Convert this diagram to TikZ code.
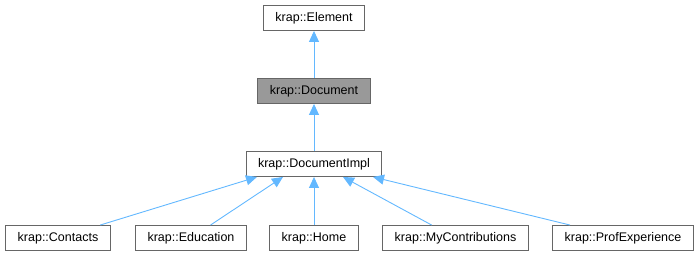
\documentclass[tikz,border=0pt]{standalone}
\usepackage{fontspec}
\setmainfont{Liberation Sans}
\usetikzlibrary{arrows.meta}

\definecolor{boxline}{HTML}{666666}
\definecolor{docfill}{HTML}{999999}
\definecolor{edgeblue}{HTML}{63B8FF}

\tikzset{
  cls/.style={draw=boxline, line width=0.9pt, fill=white, minimum height=25,
    inner xsep=12, inner ysep=0, font=\fontsize{12.5}{15}\selectfont},
  inh/.style={draw=edgeblue, line width=0.9pt,
    -{Triangle[length=11pt, width=10pt, fill=edgeblue]}}
}

\begin{document}
\begin{tikzpicture}[x=1pt, y=-1pt]
                \useasboundingbox (0,0) rectangle (699,256);
                % Define the class boxes
                \node[cls] (element) at (314,18) {krap::Element};
                \node[cls, fill=docfill] (document) at (314,91) {krap::Document};
                \node[cls] (impl) at (314,164) {krap::DocumentImpl};

                \node[cls] (contacts) at (58,238) {krap::Contacts};
                \node[cls] (education) at (191,238) {krap::Education};
                \node[cls] (home) at (314,238) {krap::Home};
                \node[cls] (mycontrib) at (455.5,238) {krap::MyContributions};
                \node[cls] (profexp) at (623,238) {krap::ProfExperience};

                % Inheritance arrows
                \draw[inh] (document) -- (element);
                \draw[inh] (impl) -- (document);

                \foreach \cls/\dx in {contacts/-57, education/-31, home/0, mycontrib/29, profexp/59} {
                    \coordinate (to-\cls) at ([xshift=\dx]impl.south);
                    \draw[inh] (\cls) -- (to-\cls);
                }
            \end{tikzpicture}
\end{document}
